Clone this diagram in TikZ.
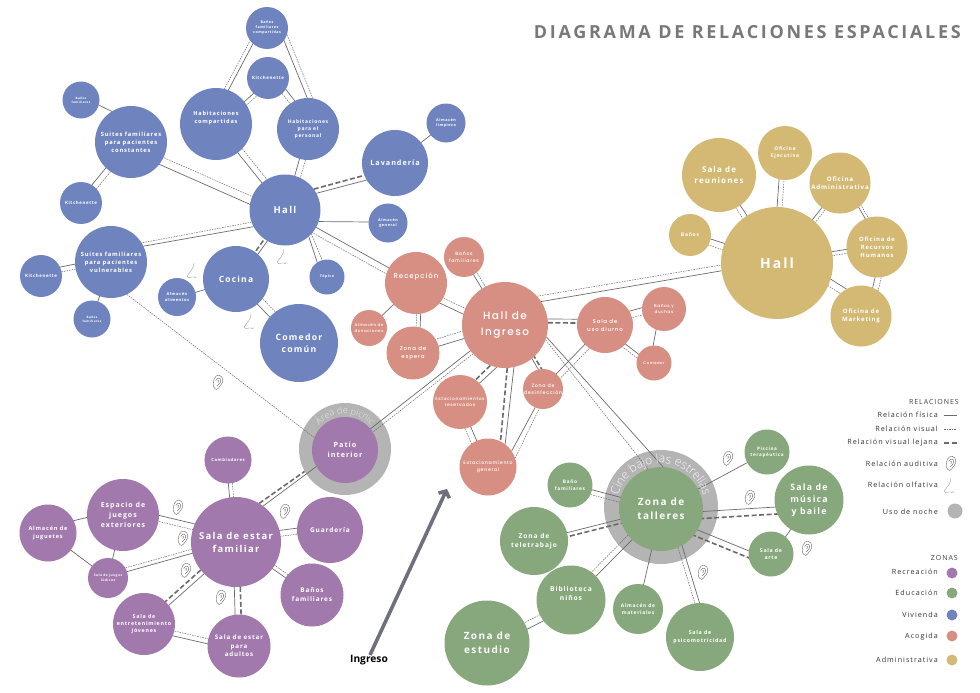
\documentclass[tikz,border=0pt]{standalone}
\usepackage{fontspec}
\setmainfont[LetterSpace=14]{Open Sans}
\newfontfamily\redonda[LetterSpace=14]{Poppins Medium}
\newfontfamily\titular[LetterSpace=15]{Open Sans}
\newfontfamily\llana{Open Sans}
\newfontfamily\fina{Open Sans Light}
\usetikzlibrary{calc,arrows.meta,decorations.text}
\definecolor{vivienda}{HTML}{6F84BE}
\definecolor{acogida}{HTML}{D68F82}
\definecolor{admin}{HTML}{D3B973}
\definecolor{recreacion}{HTML}{A179AD}
\definecolor{educacion}{HTML}{87A77C}
\definecolor{noche}{HTML}{B4B4B4}
\definecolor{linea}{HTML}{6B6B6B}
\definecolor{rotulo}{HTML}{77787C}
\definecolor{entrada}{HTML}{6E7080}
\newcommand{\tx}[1]{\bfseries\fontsize{#1}{#1}\selectfont\baselineskip=1.38\baselineskip}
\newcommand{\txr}[1]{\redonda\fontsize{#1}{#1}\selectfont\baselineskip=1.45\baselineskip}
\newcommand{\fisvis}[4]{\draw[fisica] ($(#1)!#3 pt!90:(#2)$) -- ($(#2)!#3 pt!-90:(#1)$);
	\draw[visual] ($(#1)!#4 pt!90:(#2)$) -- ($(#2)!#4 pt!-90:(#1)$);}
\newcommand{\fislej}[4]{\draw[fisica] ($(#1)!#3 pt!90:(#2)$) -- ($(#2)!#3 pt!-90:(#1)$);
	\draw[lejana] ($(#1)!#4 pt!90:(#2)$) -- ($(#2)!#4 pt!-90:(#1)$);}
\newcommand{\fis}[3]{\draw[fisica] ($(#1)!#3 pt!90:(#2)$) -- ($(#2)!#3 pt!-90:(#1)$);}
\pgfdeclarelayer{anillos}
\pgfdeclarelayer{lineas}
\pgfsetlayers{anillos,lineas,main}

\begin{document}
\begin{tikzpicture}[x=1pt,y=-1pt]
\tikzset{burbuja/.style={circle,inner sep=0pt,outer sep=0pt,align=center,text=white},
	viv/.style={burbuja,fill=vivienda,minimum size=2*#1},
	aco/.style={burbuja,fill=acogida,minimum size=2*#1},
	adm/.style={burbuja,fill=admin,minimum size=2*#1},
	rec/.style={burbuja,fill=recreacion,minimum size=2*#1},
	edu/.style={burbuja,fill=educacion,minimum size=2*#1},
	anillo/.style={circle,inner sep=0pt,fill=noche,minimum size=2*#1},
	fisica/.style={draw=linea,line width=.7pt},
	visual/.style={draw=linea,line width=.5pt,dash pattern=on 1.6pt off 1pt},
	lejana/.style={draw=linea,line width=1.6pt,dash pattern=on 5pt off 2.5pt},
	leyenda/.style={anchor=east,inner sep=0pt,text=black!80,font=\fontsize{7.2}{9}\selectfont},
	cabecera/.style={anchor=east,inner sep=0pt,text=black!75,font=\fontsize{7}{9}\selectfont},
	punto/.style={circle,inner sep=0pt,minimum size=11pt},
	trazo/.style={draw=black!65,line width=.35pt},
	ear/.pic={\draw[trazo,rotate=-12,xscale=.85] (-2,7) .. controls (-5,6) and (-6,1) .. (-5,-3)
		.. controls (-4,-8) and (4,-8) .. (5,-3) .. controls (6,1) and (3,3) .. (2,6)
		.. controls (1,8) and (-1,8) .. (-2,7);
		\draw[trazo,rotate=-12,xscale=.85] (-3,-1) .. controls (-2,-5) and (3,-5) .. (3,-1)
		.. controls (3,1) and (1,2) .. (0,4) (-1,-1) .. controls (0,-3) and (1,-1) .. (0,1);},
	nose/.pic={\draw[trazo,black!40] (1,-9) .. controls (1,-4) and (-3,0) .. (-6,4)
		.. controls (-6,6) and (-3,6) .. (-1,5) -- (5,5);
		\draw[trazo,black!40] (1,6) -- (3,5);},
	curvo/.style={decorate,decoration={text along path,text align=center,text={#1}}}}
\useasboundingbox (0,0) rectangle (980,693);

\node[anchor=east,inner sep=0pt,text=rotulo,font=\titular\bfseries\fontsize{18}{20}\selectfont] (titulo) at (961,32) {DIAGRAMA DE RELACIONES ESPACIALES};

\node[viv=21,font=\tx{3.6}] (banosc) at (267,28) {Baños\\familiares\\compartidas};
\node[viv=21,font=\tx{4.4}] (kitchc) at (268,78) {Kitchenette};
\node[viv=36,font=\tx{5.6}] (habcomp) at (216,124) {Habitaciones\\compartidas\\[5pt]};
\node[viv=31,font=\tx{5}] (habpers) at (308,129) {Habitaciones\\para el\\personal};
\node[viv=36,font=\tx{5.8}] (suitesc) at (131,142) {Suites familiares\\para pacientes\\constantes};
\node[viv=18.5,font=\tx{3}] (banosf) at (81,100) {Baños\\familiares};
\node[viv=21,font=\tx{4.4}] (kitchf) at (81,203) {Kitchenette};
\node[viv=35.5,font=\tx{9.5}] (hallv) at (285,210) {Hall};
\node[viv=36,font=\tx{5.8}] (suitesv) at (111,262) {Suites familiares\\para pacientes\\vulnerables};
\node[viv=21,font=\tx{4.4}] (kitchv) at (41,276) {Kitchenette};
\node[viv=18.5,font=\tx{3}] (banosv) at (92,319) {Baños\\familiares};
\node[viv=33,font=\tx{8.5}] (cocina) at (236,279) {Cocina};
\node[viv=19,font=\tx{4}] (almalim) at (177,297) {Almacén\\alimentos};
\node[viv=17.5,font=\tx{3.6}] (topico) at (327,277) {Tópico};
\node[viv=39,font=\tx{8.7}] (comedorv) at (299,343) {Comedor\\común};
\node[viv=33,font=\tx{7.2}] (lavanderia) at (395,163) {Lavandería};
\node[viv=19.5,font=\tx{3.8}] (almlimp) at (446,123) {Almacén\\limpieza};
\node[viv=19.5,font=\tx{3.8}] (almgen) at (388,223) {Almacén\\general};

\node[aco=43,font=\txr{10.5}] (halli) at (505,325) {Hall de\\Ingreso};
\node[aco=31,font=\txr{7}] (recepcion) at (416,283) {Recepción\\[4pt]};
\node[aco=20,font=\txr{4.7}] (banosa) at (464,257) {Baños\\familiares};
\node[aco=18,font=\txr{4}] (almdon) at (369,328) {Almacén de\\donaciones};
\node[aco=26.5,font=\txr{5.5}] (espera) at (413,353) {Zona de\\espera};
\node[aco=28,font=\txr{5.5}] (diurno) at (605,325) {Sala de\\uso diurno};
\node[aco=22,font=\txr{4.2}] (duchas) at (664,309) {Baños y\\duchas};
\node[aco=17.5,font=\txr{3.8}] (comedora) at (654,363) {Comedor};
\node[aco=27,font=\txr{4.4}] (estres) at (460,402) {Estacionamientos\\reservados};
\node[aco=20,font=\txr{4.8}] (desinf) at (543,389) {Zona de\\desinfección};
\node[aco=28.5,font=\txr{4.7}] (estgen) at (488,467) {Estacionamiento\\general};

\node[adm=56,font=\tx{14}] (halladm) at (777,263) {Hall};
\node[adm=37,font=\tx{8}] (reuniones) at (719,175) {Sala de\\reuniones};
\node[adm=27,font=\tx{5}] (ejecutiva) at (785,153) {Oficina\\Ejecutiva};
\node[adm=30.5,font=\tx{6.2}] (oadmin) at (840,183) {Oficina\\Administrativa};
\node[adm=30.5,font=\tx{5.9}] (rrhh) at (877,247) {Oficina de\\Recursos\\Humanos};
\node[adm=30.5,font=\tx{6}] (marketing) at (861,316) {Oficina de\\Marketing};
\node[adm=21,font=\tx{5}] (banosadm) at (690,235) {Baños};

\begin{pgfonlayer}{anillos}
\node[anillo=46] (ringp) at (345,449) {};
\node[anillo=57] (ringt) at (661,507) {};
\end{pgfonlayer}
\node[rec=33,font=\tx{7.2}] (patio) at (345,450) {Patio\\interior};
\node[rec=45,font=\tx{9.5}] (estar) at (236,542) {Sala de estar\\familiar};
\node[rec=23.5,font=\tx{4.2}] (cambiad) at (228,460) {Cambiadores};
\node[rec=36,font=\tx{7}] (espacio) at (123,515) {Espacio de\\juegos\\exteriores};
\node[rec=28.5,font=\tx{5.6}] (juguetes) at (48,533) {Almacén de\\juguetes};
\node[rec=20,font=\tx{3.3}] (ludicos) at (108,578) {Sala de juegos\\lúdicos};
\node[rec=33,font=\tx{6.5}] (guarderia) at (330,530) {Guardería};
\node[rec=31.5,font=\tx{6.4}] (banosr) at (312,595) {Baños\\familiares};
\node[rec=31.5,font=\tx{6.2}] (adultos) at (239,646) {Sala de estar\\para\\adultos};
\node[rec=31,font=\tx{5.3}] (jovenes) at (144,624) {Sala de\\entretenimiento\\jóvenes};

\node[edu=42,font=\tx{10}] (talleres) at (661,509) {Zona de\\talleres};
\node[edu=22.5,font=\tx{4.8}] (banoe) at (570,485) {Baño\\familiares};
\node[edu=34,font=\tx{6.6}] (teletrabajo) at (534,541) {Zona de\\teletrabajo};
\node[edu=34.5,font=\tx{6.7}] (biblioteca) at (571,600) {Biblioteca\\niños\\[4pt]};
\node[edu=42.5,font=\tx{10}] (estudio) at (487,643) {Zona de\\estudio};
\node[edu=25,font=\tx{4.9}] (materiales) at (638,609) {Almacén de\\materiales};
\node[edu=34,font=\tx{5.3}] (psico) at (700,637) {Sala de\\psicomotricidad};
\node[edu=22.5,font=\tx{5.2}] (arte) at (771,554) {Sala de\\arte};
\node[edu=34.5,font=\tx{8.8}] (musica) at (809,500) {Sala de\\música\\y baile};
\node[edu=22.5,font=\tx{4.6}] (piscina) at (767,452) {Piscina\\terapéutica};

\begin{pgfonlayer}{lineas}
\fisvis{banosc}{habcomp}{-5}{-9}
\fisvis{habpers}{banosc}{-11}{-16}
\fisvis{kitchc}{habcomp}{2}{6}
\fisvis{kitchc}{habpers}{7}{1.5}
\fisvis{hallv}{habcomp}{1}{-5}
\fisvis{hallv}{habpers}{0}{-6}
\fisvis{hallv}{suitesc}{9}{1}
\fisvis{kitchf}{suitesc}{3}{-3}
\draw[fisica] (banosf.-16) -- (suitesc.122);
\draw[fisica] (hallv.208) -- (suitesv.26);
\draw[visual] (hallv.200) -- (suitesv.32);
\fisvis{kitchv}{suitesv}{5}{0}
\fis{suitesv}{banosv}{0}
\fislej{hallv}{cocina}{3.5}{0}
\fis{cocina}{almalim}{1}
\fisvis{comedorv}{cocina}{2.5}{-5}
\draw[fisica] (hallv.-48) -- (topico.124);
\draw[visual] (hallv.-42) -- (topico.106);
\draw[lejana] (hallv.36) -- (lavanderia.202);
\draw[fisica] (hallv.28) -- (lavanderia.211);
\fis{lavanderia}{almlimp}{0}
\draw[fisica] (hallv.-19) -- (almgen.177);
\fisvis{hallv}{recepcion}{0}{-6.5}
\draw[visual] (suitesv.-64) -- (patio.158);

\fisvis{halli}{banosa}{1}{-3}
\fisvis{halli}{recepcion}{8}{2}
\fis{recepcion}{almdon}{0}
\fisvis{recepcion}{espera}{6}{2}
\fisvis{halli}{espera}{1}{-6.5}
\fisvis{patio}{halli}{1}{-3}
\draw[fisica] (halli.-101) -- (estres.44);
\draw[lejana] (halli.-110) -- (estres.55);
\fisvis{estres}{estgen}{0}{-6}
\draw[fisica] (halli.-78) -- (estgen.53);
\draw[lejana] (halli.-87) -- (estgen.64);
\fislej{desinf}{halli}{-6}{-9}
\draw[fisica] (estgen.34) -- (desinf.247);
\draw[visual] (estgen.18) -- (desinf.259);
\fisvis{desinf}{diurno}{1}{-5}
\draw[fisica] (halli.8) -- (diurno.168);
\draw[lejana] (halli.3) -- (diurno.176);
\fisvis{diurno}{duchas}{7}{0}
\fis{duchas}{comedora}{-4}
\fisvis{diurno}{comedora}{-2.5}{-6.5}
\draw[fisica] (halli.33) -- (halladm.188);
\draw[visual] (halli.42) -- (halladm.182);
\draw[fisica] (halli.-16) -- (talleres.87);
\draw[visual] (halli.-20) -- (talleres.108);

\fisvis{halladm}{reuniones}{-1}{4}
\fisvis{halladm}{ejecutiva}{4}{-1}
\fisvis{halladm}{oadmin}{-1}{-5}
\fisvis{oadmin}{rrhh}{4}{7}
\fisvis{halladm}{rrhh}{2.5}{-1.5}
\fisvis{rrhh}{marketing}{5}{11}
\fisvis{halladm}{marketing}{15}{8}
\fisvis{halladm}{banosadm}{-2.5}{4}

\draw[fisica] (estar.53) -- (patio.210);
\draw[lejana] (estar.59) -- (ringp.209);
\fisvis{estar}{espacio}{-8}{-2}
\fis{espacio}{juguetes}{-6}
\fis{juguetes}{ludicos}{0}
\fis{espacio}{ludicos}{0}
\fisvis{estar}{ludicos}{-1}{-5}
\fislej{estar}{jovenes}{2.5}{-2.5}
\fislej{estar}{adultos}{-3}{3}
\fisvis{jovenes}{adultos}{-5}{0}
\fisvis{estar}{banosr}{-1}{3}
\fisvis{estar}{guarderia}{6}{0}
\fisvis{cambiad}{estar}{-2}{2}

\fisvis{talleres}{banoe}{-1}{4}
\fislej{talleres}{teletrabajo}{0}{4}
\fisvis{talleres}{biblioteca}{1}{-5}
\fisvis{biblioteca}{estudio}{6}{-1}
\fis{talleres}{materiales}{0}
\fisvis{talleres}{psico}{9.5}{5}
\fislej{talleres}{arte}{-5.5}{-12}
\fislej{talleres}{musica}{-5}{-12}
\fis{talleres}{piscina}{0}
\fis{musica}{arte}{2}
\end{pgfonlayer}

\path[curvo={|\fina\fontsize{9.2}{10}\selectfont\color{black!10}|Área de picnic}] ($(ringp)+(-32.5,13)$) arc[start angle=158,end angle=382,radius=35];
\path[curvo={|\fina\fontsize{12}{13}\selectfont\color{white!92!noche}|Cine bajo las estrellas}] ($(ringt)+(-41,16.5)$) arc[start angle=158,end angle=382,radius=44];

\pic at (218,382) {ear};
\pic at (178,507) {ear};
\pic at (183,538) {ear};
\pic at (186,570) {ear};
\pic at (221,597) {ear};
\pic at (285,511) {ear};
\pic at (728,458) {ear};
\pic at (750,497) {ear};
\pic at (807,548) {ear};
\pic at (703,572) {ear};
\pic at (283,258) {nose};
\pic at (193,272) {nose};
\pic at (250,323) {nose};

\node[inner sep=0pt,font=\llana\bfseries\fontsize{10.2}{12}\selectfont] (ingreso) at (369,660) {Ingreso};
\coordinate (puerta) at (447,489);
\draw[entrada,line width=3.6pt,-{Straight Barb[length=5pt,width=12pt]}] ([xshift=1pt]ingreso.north) -- (puerta);

\node[cabecera] (trelaciones) at (959,402) {RELACIONES};
\node[leyenda] (tfisica) at (938,415) {Relación física};
\node[leyenda] (tvisual) at (938,429) {Relación visual};
\node[leyenda] (tlejana) at (938,443) {Relación visual lejana};
\node[leyenda] (tauditiva) at (938,464) {Relación auditiva};
\node[leyenda] (tolfativa) at (938,485) {Relación olfativa};
\node[leyenda] (tnoche) at (938,512) {Uso de noche};
\coordinate (lf) at (944,415);
\coordinate (lfb) at (957,415);
\coordinate (lv) at (944,429);
\coordinate (lvb) at (957,429);
\coordinate (ll) at (944,443);
\coordinate (llb) at (957,443);
\draw[fisica] (lf) -- (lfb);
\draw[visual] (lv) -- (lvb);
\draw[lejana] (ll) -- (llb);
\pic at (951,463) {ear};
\pic at (950,487) {nose};
\node[punto,fill=noche,minimum size=15pt] (dnoche) at (955,511) {};

\node[cabecera] (tzonas) at (958,558) {ZONAS};
\node[leyenda] (trecreacion) at (938,572) {Recreación};
\node[leyenda] (teducacion) at (938,593) {Educación};
\node[leyenda] (tvivienda) at (938,615) {Vivienda};
\node[leyenda] (tacogida) at (938,637) {Acogida};
\node[leyenda] (tadministrativa) at (938,660) {Administrativa};
\node[punto,fill=recreacion] (drecreacion) at (952,573) {};
\node[punto,fill=educacion] (deducacion) at (952,593) {};
\node[punto,fill=vivienda] (dvivienda) at (952,615) {};
\node[punto,fill=acogida] (dacogida) at (952,636) {};
\node[punto,fill=admin] (dadministrativa) at (952,660) {};
\end{tikzpicture}
\end{document}
